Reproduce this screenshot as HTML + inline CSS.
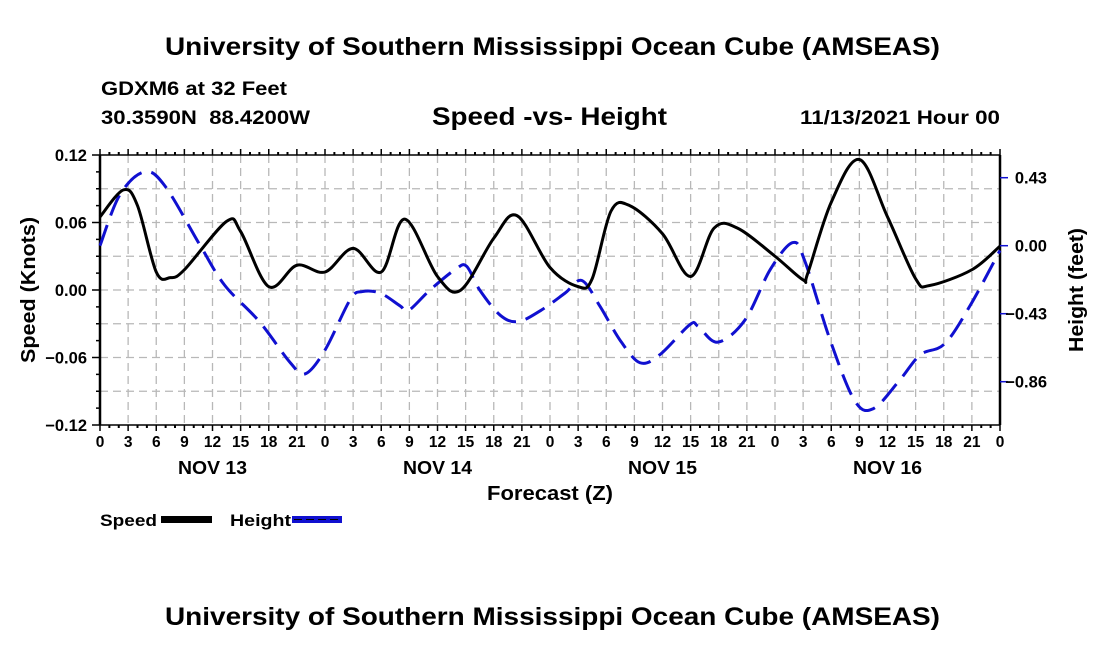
<!DOCTYPE html>
<html><head><meta charset="utf-8"><style>
html,body{margin:0;padding:0;background:#fff;}
svg{display:block;font-family:"Liberation Sans",sans-serif;font-weight:bold;}
</style></head><body>
<svg id="c" width="1100" height="650" viewBox="0 0 1100 650">
<text x="165" y="55" font-size="25" textLength="775" lengthAdjust="spacingAndGlyphs">University of Southern Mississippi Ocean Cube (AMSEAS)</text>
<text x="101" y="95" font-size="19" textLength="186" lengthAdjust="spacingAndGlyphs">GDXM6 at 32 Feet</text>
<text x="101" y="124" font-size="19" textLength="209" lengthAdjust="spacingAndGlyphs">30.3590N&#160;&#160;88.4200W</text>
<text x="432" y="125" font-size="25" textLength="235" lengthAdjust="spacingAndGlyphs">Speed -vs- Height</text>
<text x="800" y="124" font-size="19" textLength="200" lengthAdjust="spacingAndGlyphs">11/13/2021 Hour 00</text>
<text x="165" y="625" font-size="25" textLength="775" lengthAdjust="spacingAndGlyphs">University of Southern Mississippi Ocean Cube (AMSEAS)</text>
<g id="grid"></g><g id="axes"></g><g id="series"></g>
<text x="0" y="0" transform="translate(35,290) rotate(-90)" text-anchor="middle" font-size="20" textLength="146" lengthAdjust="spacingAndGlyphs">Speed (Knots)</text>
<text x="0" y="0" transform="translate(1083,290) rotate(-90)" text-anchor="middle" font-size="20" textLength="124" lengthAdjust="spacingAndGlyphs">Height (feet)</text>
<text x="487" y="500" font-size="20" textLength="126" lengthAdjust="spacingAndGlyphs">Forecast (Z)</text>
<g>
<text x="100" y="526" font-size="17" textLength="57" lengthAdjust="spacingAndGlyphs">Speed</text>
<rect x="161" y="516" width="51" height="7" fill="#000"/>
<text x="230" y="526" font-size="17" textLength="61" lengthAdjust="spacingAndGlyphs">Height</text>
<rect x="292" y="516" width="50" height="7" fill="#1010d0"/>
<line x1="294" y1="519.5" x2="340" y2="519.5" stroke="#000" stroke-width="1" stroke-dasharray="8,4"/>
</g>
</svg>
<script>
const speedHours=[0,2.5,4,6,7.5,9,13.5,15,18,21,24,27,30,32.5,36,38.5,42,44.5,48,51,52.5,54.5,56.5,60,63,65.5,68,72,75,75.5,78,81,84,87,88.5,93,96];
const speedValues=[0.065,0.089,0.075,0.016,0.011,0.018,0.061,0.052,0.003,0.022,0.016,0.037,0.016,0.063,0.012,0.0,0.046,0.066,0.02,0.003,0.01,0.07,0.075,0.05,0.012,0.055,0.055,0.03,0.009,0.015,0.078,0.116,0.065,0.01,0.004,0.018,0.039];
const heightHours=[0,2.1,4.7,6.9,10.7,13.3,17,20.3,21.9,24,26.7,28,29.9,32,32.9,35.2,37.9,39.1,40.5,42.7,44.6,47,49.6,51.4,53.3,55.5,57.6,59.7,62.9,63.8,65.9,68.8,71.5,73.9,75.2,77.9,80.5,82.5,85.3,87.5,90.1,92.8,96];
const heightValues=[0.0,0.32,0.466,0.38,0.0,-0.25,-0.48,-0.74,-0.81,-0.66,-0.34,-0.29,-0.30,-0.38,-0.41,-0.28,-0.15,-0.13,-0.28,-0.44,-0.48,-0.41,-0.30,-0.22,-0.38,-0.60,-0.74,-0.69,-0.50,-0.51,-0.61,-0.47,-0.15,0.02,-0.10,-0.60,-0.98,-1.03,-0.85,-0.69,-0.62,-0.38,-0.03];
const leftTicks=[-0.12,-0.06,0.00,0.06,0.12];
const leftTickLabels=["\u22120.12","\u22120.06","0.00","0.06","0.12"];
const rightTicks=[0.43,0.00,-0.43,-0.86];
const rightTickLabels=["0.43","0.00","\u22120.43","\u22120.86"];
const hourLabels=["0","3","6","9","12","15","18","21","0","3","6","9","12","15","18","21","0","3","6","9","12","15","18","21","0","3","6","9","12","15","18","21","0"];
const dayLabels=["NOV 13","NOV 14","NOV 15","NOV 16"];

const L=100,R=1000,T=155,B=425;
const xs=h=>L+(R-L)*h/96;
const yL=v=>T+(B-T)*(0.12-v)/0.24;
const yR=v=>245.7-v*68/0.43;
const NS="http://www.w3.org/2000/svg";
function mk(tag,attrs,parent){const e=document.createElementNS(NS,tag);for(const k in attrs)e.setAttribute(k,attrs[k]);parent.appendChild(e);return e;}
const grid=document.getElementById('grid'),axes=document.getElementById('axes'),series=document.getElementById('series');
for(let h=3;h<96;h+=3){const g=mk('line',{x1:xs(h),x2:xs(h),y1:T,y2:B,stroke:'#b8b8b8','stroke-width':1.3,'stroke-dasharray':'8,5'},grid);

}
for(let i=1;i<8;i++){const v=0.12-i*0.03;const g=mk('line',{x1:L,x2:R,y1:yL(v),y2:yL(v),stroke:'#b8b8b8','stroke-width':1.3,'stroke-dasharray':'8,5'},grid);

}
[[L,T,L,B,2.5],[R,T,R,B,2.5],[L,T,R,T,1.5],[L,B,R,B,1.5]].forEach(a=>{const f=mk('line',{x1:a[0],y1:a[1],x2:a[2],y2:a[3],stroke:'#000','stroke-width':a[4]},axes);

});
for(let h=0;h<=96;h++){const major=h%3===0;const len=major?6:3;
[[B,B+len],[T,T-len]].forEach(p=>{const t=mk('line',{x1:xs(h),x2:xs(h),y1:p[0],y2:p[1],stroke:'#000','stroke-width':major?1.5:2},axes);

});}
hourLabels.forEach((s,i)=>{const t=mk('text',{x:xs(i*3),y:447,'text-anchor':'middle','font-size':15.5},axes);t.textContent=s;

});
dayLabels.forEach((s,i)=>{const t=mk('text',{x:xs(i*24+12),y:474,'text-anchor':'middle','font-size':18,textLength:69,lengthAdjust:'spacingAndGlyphs'},axes);t.textContent=s;

});
for(let i=0;i<=16;i++){const v=-0.12+i*0.015;const major=i%4===0;const t=mk('line',{x1:L,x2:L-(major?8:4),y1:yL(v),y2:yL(v),stroke:'#000','stroke-width':1.5},axes);

}
leftTicks.forEach((v,i)=>{const t=mk('text',{x:L-13,y:yL(v)+6,'text-anchor':'end','font-size':16.5},axes);t.textContent=leftTickLabels[i];

});
rightTicks.forEach((v,i)=>{const l=mk('line',{x1:R,x2:R+8,y1:yR(v),y2:yR(v),stroke:'#1010d0','stroke-width':1.5},axes);


const t=mk('text',{x:1047,y:yR(v)+6,'text-anchor':'end','font-size':16.5},axes);t.textContent=rightTickLabels[i];

});
function smooth(pts){let d='M'+pts[0][0]+','+pts[0][1];
for(let i=0;i<pts.length-1;i++){const p0=pts[Math.max(0,i-1)],p1=pts[i],p2=pts[i+1],p3=pts[Math.min(pts.length-1,i+2)];
const c1=[p1[0]+(p2[0]-p0[0])/6,p1[1]+(p2[1]-p0[1])/6],c2=[p2[0]-(p3[0]-p1[0])/6,p2[1]-(p3[1]-p1[1])/6];
d+=' C'+c1.join(',')+' '+c2.join(',')+' '+p2.join(',');}return d;}
const hp=mk('path',{d:smooth(heightHours.map((h,i)=>[xs(h),yR(heightValues[i])])),fill:'none',stroke:'#1010d0','stroke-width':3,'stroke-dasharray':'22,10'},series);


const sp=mk('path',{d:smooth(speedHours.map((h,i)=>[xs(h),yL(speedValues[i])])),fill:'none',stroke:'#000','stroke-width':3},series);


</script>
</body></html>
